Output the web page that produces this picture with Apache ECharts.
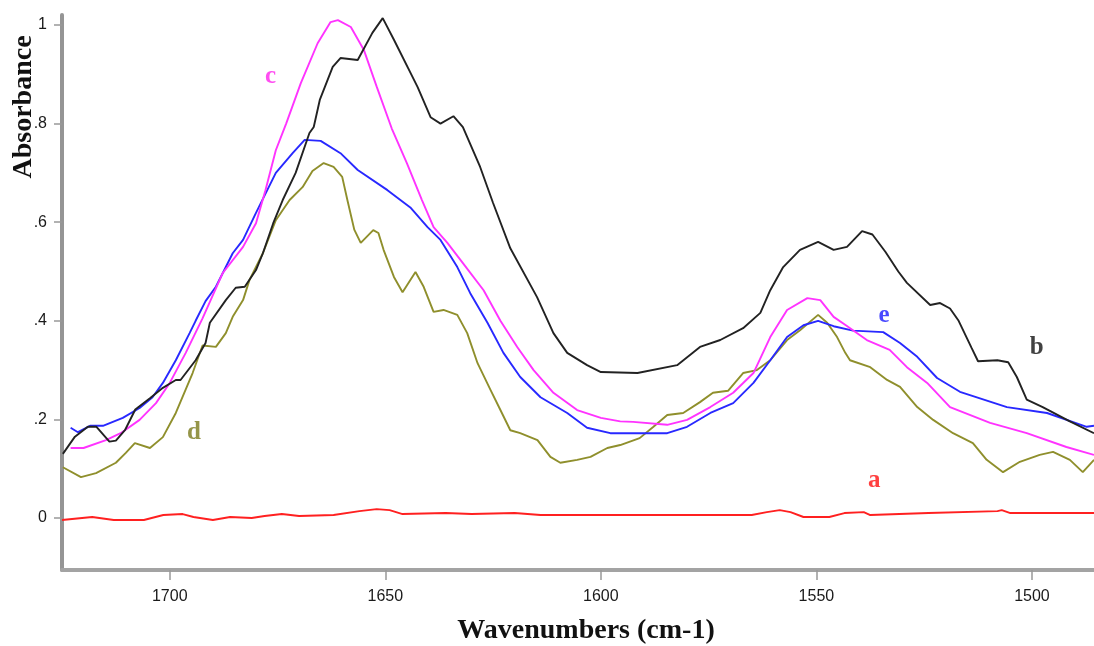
<!DOCTYPE html>
<html>
<head>
<meta charset="utf-8">
<script src="https://cdn.jsdelivr.net/npm/echarts@6/dist/echarts.min.js"></script>
<style>html,body{margin:0;padding:0;background:#fff}#c{width:1094px;height:646px}</style>
</head>
<body>
<div id="c"></div>
<script>
// Wavenumber (cm-1), absorbance pairs
const aData = [[1725,-0.004],[1718,0.002],[1713,-0.004],[1706,-0.004],[1701.5,0.006],[1697,0.008],[1694.5,0.002],[1690,-0.004],[1686,0.002],[1681,0],[1678,0.004],[1674,0.008],[1670,0.004],[1662,0.006],[1656,0.014],[1652,0.018],[1649,0.016],[1646,0.008],[1636,0.01],[1630,0.008],[1620,0.01],[1614,0.006],[1600,0.006],[1565,0.006],[1561.5,0.012],[1558.5,0.016],[1556,0.012],[1553,0.002],[1547,0.002],[1543.5,0.01],[1539,0.012],[1537.5,0.006],[1524,0.01],[1508,0.014],[1507,0.016],[1505,0.01],[1485.6,0.01]];
const bData = [[1724.8,0.13],[1722,0.165],[1719,0.185],[1717,0.185],[1714,0.155],[1712.5,0.157],[1710.4,0.178],[1708,0.22],[1704.6,0.243],[1701.6,0.264],[1698.6,0.28],[1697.5,0.28],[1694,0.32],[1691.7,0.355],[1690.7,0.396],[1687,0.442],[1684.7,0.467],[1682.6,0.469],[1680,0.503],[1678.4,0.537],[1676,0.598],[1673.8,0.645],[1670.8,0.7],[1667.6,0.781],[1666.6,0.793],[1665.2,0.848],[1662.2,0.915],[1660.4,0.933],[1656.4,0.929],[1653,0.984],[1650.6,1.014],[1648,0.97],[1642.5,0.874],[1639.5,0.813],[1637.2,0.8],[1634.2,0.815],[1632,0.793],[1628,0.712],[1625,0.639],[1621,0.547],[1614.8,0.448],[1611,0.375],[1607.8,0.335],[1603.2,0.31],[1600,0.296],[1591.5,0.294],[1582.3,0.31],[1577,0.347],[1572.3,0.361],[1567,0.385],[1563,0.416],[1560.7,0.462],[1557.7,0.509],[1553.8,0.544],[1549.6,0.56],[1546,0.544],[1542.9,0.55],[1539.4,0.582],[1537,0.575],[1534,0.54],[1531,0.5],[1529,0.477],[1523.6,0.432],[1521.3,0.436],[1519,0.425],[1517,0.4],[1514,0.345],[1512.5,0.318],[1508,0.32],[1505.5,0.316],[1503.5,0.286],[1501.2,0.24],[1497.5,0.225],[1491.2,0.196],[1485.6,0.172]];
const cData = [[1723,0.142],[1720,0.142],[1714.8,0.158],[1711.4,0.172],[1707,0.199],[1703.2,0.233],[1700,0.274],[1696.3,0.335],[1692.4,0.405],[1687.7,0.497],[1683,0.55],[1680,0.598],[1677.8,0.665],[1675.4,0.746],[1673,0.8],[1669.6,0.882],[1665.7,0.963],[1662.7,1.006],[1661,1.01],[1658,0.996],[1655,0.95],[1652,0.875],[1648.5,0.79],[1645,0.72],[1641.5,0.645],[1638.8,0.59],[1635.6,0.558],[1632,0.517],[1627.2,0.462],[1623.3,0.4],[1619.4,0.347],[1615.6,0.3],[1611,0.254],[1605.5,0.219],[1600,0.203],[1595.5,0.196],[1592.5,0.195],[1584.6,0.189],[1580,0.199],[1574.6,0.225],[1569.3,0.254],[1564.6,0.294],[1560.7,0.367],[1556.8,0.422],[1552.1,0.446],[1549.1,0.442],[1546,0.408],[1543,0.39],[1538.3,0.361],[1533,0.341],[1529,0.306],[1524.3,0.274],[1519,0.225],[1509.7,0.193],[1501.2,0.172],[1492,0.144],[1485.6,0.128]];
const dData = [[1724.8,0.103],[1720.6,0.083],[1717.1,0.091],[1712.5,0.112],[1710.2,0.132],[1708.1,0.152],[1704.6,0.142],[1701.6,0.164],[1698.6,0.213],[1694.7,0.294],[1692.4,0.35],[1689.3,0.347],[1687,0.375],[1685.4,0.408],[1683,0.442],[1681.5,0.483],[1678.4,0.537],[1675.4,0.604],[1672.2,0.645],[1669.2,0.671],[1666.9,0.704],[1664.3,0.72],[1662,0.712],[1660,0.692],[1658.8,0.645],[1657.2,0.585],[1655.7,0.558],[1652.8,0.584],[1651.6,0.578],[1650.4,0.544],[1648,0.489],[1646,0.458],[1643,0.499],[1641.1,0.469],[1638.8,0.418],[1636.5,0.422],[1633.3,0.412],[1631,0.375],[1628.6,0.314],[1625.6,0.26],[1623.3,0.219],[1621,0.178],[1618.7,0.172],[1614.7,0.158],[1611.7,0.124],[1609.4,0.112],[1605.5,0.118],[1602.4,0.124],[1598.5,0.142],[1595.5,0.148],[1591,0.162],[1587.8,0.185],[1584.6,0.209],[1580.9,0.213],[1577,0.235],[1574,0.254],[1570.5,0.258],[1567,0.294],[1563.8,0.3],[1560.7,0.32],[1556.8,0.361],[1553.8,0.381],[1549.6,0.412],[1547.5,0.396],[1545.2,0.367],[1543.3,0.335],[1542.2,0.32],[1537.5,0.306],[1533.6,0.28],[1530.6,0.266],[1526.6,0.225],[1522.9,0.199],[1518.3,0.172],[1513.7,0.152],[1510.5,0.118],[1506.7,0.093],[1502.8,0.114],[1498.2,0.128],[1495.1,0.134],[1491.2,0.118],[1488.2,0.093],[1485.6,0.118]];
const eData = [[1723,0.183],[1721.3,0.174],[1718.5,0.187],[1715.5,0.187],[1710.9,0.203],[1707,0.223],[1704,0.245],[1701.6,0.274],[1698.6,0.32],[1695.4,0.375],[1694,0.4],[1691.7,0.44],[1689.3,0.469],[1685.4,0.537],[1683,0.564],[1680,0.619],[1675.4,0.7],[1671.5,0.74],[1668.7,0.767],[1665,0.765],[1660.4,0.74],[1656.4,0.706],[1649.5,0.665],[1644.2,0.63],[1640.2,0.59],[1637.2,0.564],[1633.3,0.509],[1630.3,0.456],[1626.3,0.396],[1622.6,0.335],[1618.7,0.286],[1614,0.245],[1607.8,0.213],[1603.2,0.183],[1597.8,0.172],[1584.6,0.172],[1580,0.185],[1574.6,0.213],[1569.3,0.233],[1564.6,0.274],[1560.7,0.32],[1556.8,0.367],[1553,0.391],[1549.6,0.4],[1546,0.389],[1541.5,0.38],[1534.5,0.377],[1530.6,0.355],[1526.6,0.327],[1522,0.284],[1516.7,0.256],[1505.8,0.225],[1496.5,0.213],[1487.3,0.185],[1485.6,0.187]];

const xTicks = [1500, 1550, 1600, 1650, 1700];
const yTicks = [0, 0.2, 0.4, 0.6, 0.8, 1];
const seriesNames = ['a', 'b', 'c', 'd', 'e'];
const seriesColors = {a: '#ff2020', b: '#222222', c: '#ff33ff', d: '#8f8f2c', e: '#2828ff'};
const labelColors = {a: '#ff1010', b: '#111111', c: '#ff22ee', d: '#7a7a1c', e: '#1a1aff'};
// label anchor points in data units (wavenumber, absorbance)
const labelPos = {a: [1536.6, 0.075], b: [1498.9, 0.345], c: [1676.6, 0.895], d: [1694.4, 0.174], e: [1534.3, 0.41]};
const dataMap = {a: aData, b: bData, c: cData, d: dData, e: eData};

const chart = echarts.init(document.getElementById('c'), null, {renderer: 'canvas'});
const drawOrder = ['a', 'd', 'e', 'c', 'b'];
const series = [];
drawOrder.forEach(k => {
  series.push({
    name: k, type: 'line', data: dataMap[k], showSymbol: false, smooth: false,
    lineStyle: {color: seriesColors[k], width: 1.9}, silent: true, z: 3
  });
});
seriesNames.forEach(k => {
  series.push({
    name: k + '-label', type: 'scatter', data: [labelPos[k]], symbolSize: 1,
    itemStyle: {color: 'rgba(0,0,0,0)'}, silent: true, z: 5,
    label: {show: true, position: 'inside', formatter: k, color: labelColors[k],
      fontFamily: 'Liberation Serif', fontWeight: 'bold', fontSize: 25}
  });
});

const axisGray = '#a3a3a3';
chart.setOption({
  animation: false,
  backgroundColor: '#ffffff',
  grid: {left: 62, right: 0, top: 15, bottom: 76, containLabel: false},
  xAxis: {
    type: 'value', inverse: true, min: 1485.6, max: 1725,
    axisLine: {show: true, onZero: false, lineStyle: {color: axisGray, width: 4}},
    axisTick: {show: true, customValues: xTicks, length: 10, lineStyle: {color: '#999', width: 1.5}},
    axisLabel: {show: true, customValues: xTicks, margin: 19, fontFamily: 'Liberation Sans', fontSize: 16, color: '#1a1a1a',
      formatter: v => String(Math.round(v))},
    splitLine: {show: false}
  },
  yAxis: {
    type: 'value', min: -0.1055, max: 1.0203,
    axisLine: {show: true, onZero: false, lineStyle: {color: '#959595', width: 4}},
    axisTick: {show: true, customValues: yTicks, length: 8, lineStyle: {color: '#999', width: 1.5}},
    axisLabel: {show: true, customValues: yTicks, margin: 15, fontFamily: 'Liberation Sans', fontSize: 16, color: '#1a1a1a',
      formatter: v => { if (Math.abs(v) < 1e-9) return '0'; if (Math.abs(v - 1) < 1e-9) return '1'; return '.' + Math.round(v * 10); }},
    splitLine: {show: false}
  },
  graphic: [
    {type: 'text', x: 24, y: 107, rotation: Math.PI / 2, z: 10,
      style: {text: 'Absorbance', font: 'bold 28px "Liberation Serif"', fill: '#111', align: 'center', verticalAlign: 'middle', textAlign: 'center', textVerticalAlign: 'middle'}},
    {type: 'text', x: 586, y: 631, z: 10,
      style: {text: 'Wavenumbers (cm-1)', font: 'bold 28px "Liberation Serif"', fill: '#111', align: 'center', verticalAlign: 'middle', textAlign: 'center', textVerticalAlign: 'middle'}}
  ],
  series: series
});
</script>
</body>
</html>
